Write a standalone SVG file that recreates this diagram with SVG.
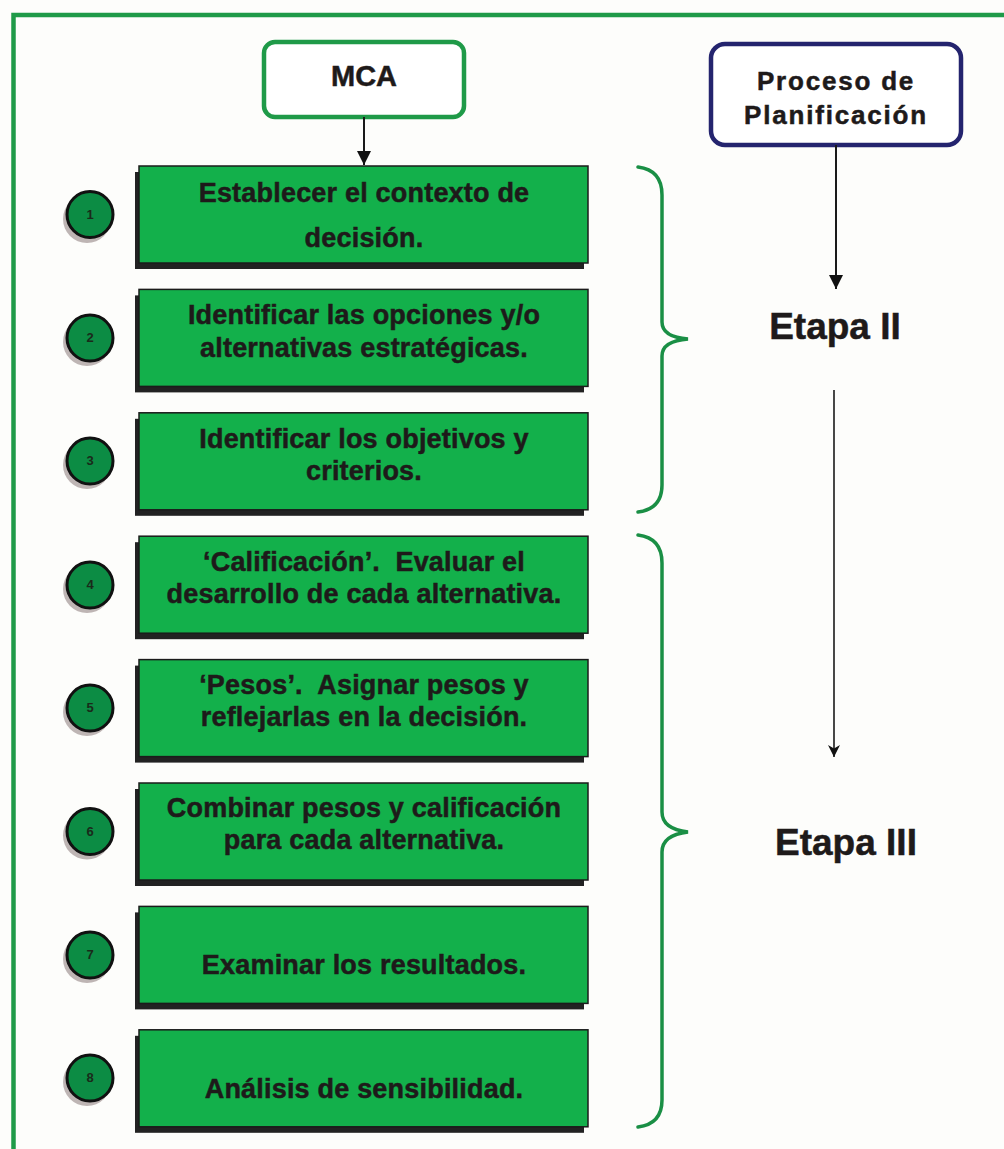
<svg xmlns="http://www.w3.org/2000/svg" width="1004" height="1149" viewBox="0 0 1004 1149">
<defs>
<style>
.t{font-family:"Liberation Sans",Arial,sans-serif;font-weight:bold;fill:#1e1a1a;text-anchor:middle;stroke:#1e1a1a;stroke-width:0.5}
.bx{font-size:27px;letter-spacing:0.2px}
.box{fill:#13b04b;stroke:#1b1b1b;stroke-width:1.5}
.sh{fill:#222}
.cs{fill:#8a7a7a;opacity:.55}
.c{fill:#0c8c44;stroke:#111;stroke-width:3}
.n{font-family:"Liberation Sans",Arial,sans-serif;font-weight:bold;font-size:13px;fill:#1a2a1a;text-anchor:middle}
.br{fill:none;stroke:#1a8f45;stroke-width:3.5;stroke-linecap:round}
.ln{fill:none;stroke:#1a1a1a}
</style>
<marker id="ah" viewBox="0 0 10 10" refX="10" refY="5" markerWidth="14" markerHeight="14" markerUnits="userSpaceOnUse" orient="auto">
<path d="M0,0 L10,5 L0,10 z" fill="#111"/>
</marker>
<marker id="ahs" viewBox="0 0 10 10" refX="10" refY="5" markerWidth="14" markerHeight="12" markerUnits="userSpaceOnUse" orient="auto">
<path d="M0,0 L10,5 L0,10 L3,5 z" fill="#111"/>
</marker>
</defs>
<rect width="1004" height="1149" fill="#fdfdfb"/>
<path d="M13.5,1149 V15 H1004" fill="none" stroke="#1f9a48" stroke-width="4.5"/>

<g id="mca">
<rect x="264" y="42" width="200" height="75" rx="11" fill="#ffffff" stroke="#1f9a48" stroke-width="4.5"/>
<text class="t" x="364" y="86" font-size="29">MCA</text>
</g>

<g id="proceso">
<rect x="711" y="44" width="250" height="101" rx="14" fill="#ffffff" stroke="#24246e" stroke-width="4.5"/>
<text class="t" x="836" y="90" font-size="26" letter-spacing="1.8">Proceso de</text>
<text class="t" x="836" y="124" font-size="26" letter-spacing="1.8">Planificación</text>
</g>

<g id="connectors">
<line class="ln" x1="364" y1="117" x2="364" y2="165" stroke-width="2" marker-end="url(#ah)"/>
<line class="ln" x1="836" y1="145" x2="836" y2="289" stroke-width="2" marker-end="url(#ah)"/>
<line class="ln" x1="834" y1="390" x2="834" y2="757" stroke-width="1.6" marker-end="url(#ahs)"/>
</g>

<g id="brace1"><path class="br" d="M638,167 Q662,170 662,195 V322 Q662,337 688,339 Q662,341 662,356 V485 Q662,509 638,512"/></g>
<g id="brace2"><path class="br" d="M638,535 Q662,538 662,563 V812 Q662,829 688,832 Q662,835 662,852 V1100 Q662,1124 638,1127"/></g>

<g id="etapa2"><text class="t" x="835" y="339" font-size="37">Etapa II</text></g>
<g id="etapa3"><text class="t" x="846" y="855" font-size="37">Etapa III</text></g>

<g id="step1">
<rect class="sh" x="135" y="172" width="449" height="97"/>
<rect class="box" x="139" y="166" width="449" height="97"/>
<circle class="cs" cx="87" cy="219" r="24"/>
<circle class="c" cx="90" cy="214.5" r="23"/>
<text class="n" x="90" y="219">1</text>
<text class="t bx" x="364" y="202">Establecer el contexto de</text>
<text class="t bx" x="364" y="247">decisión.</text>
</g>

<g id="step2">
<rect class="sh" x="135" y="295.4" width="449" height="97"/>
<rect class="box" x="139" y="289.4" width="449" height="97"/>
<circle class="cs" cx="87" cy="342" r="24"/>
<circle class="c" cx="90" cy="338" r="23"/>
<text class="n" x="90" y="342">2</text>
<text class="t bx" x="364" y="324">Identificar las opciones y/o</text>
<text class="t bx" x="364" y="357">alternativas estratégicas.</text>
</g>

<g id="step3">
<rect class="sh" x="135" y="418.8" width="449" height="97"/>
<rect class="box" x="139" y="412.8" width="449" height="97"/>
<circle class="cs" cx="87" cy="465" r="24"/>
<circle class="c" cx="90" cy="461" r="23"/>
<text class="n" x="90" y="465">3</text>
<text class="t bx" x="364" y="448">Identificar los objetivos y</text>
<text class="t bx" x="364" y="480">criterios.</text>
</g>

<g id="step4">
<rect class="sh" x="135" y="542.2" width="449" height="97"/>
<rect class="box" x="139" y="536.2" width="449" height="97"/>
<circle class="cs" cx="87" cy="589" r="24"/>
<circle class="c" cx="90" cy="585" r="23"/>
<text class="n" x="90" y="589">4</text>
<text class="t bx" x="364" y="571" xml:space="preserve">‘Calificación’.  Evaluar el</text>
<text class="t bx" x="364" y="603">desarrollo de cada alternativa.</text>
</g>

<g id="step5">
<rect class="sh" x="135" y="665.6" width="449" height="97"/>
<rect class="box" x="139" y="659.6" width="449" height="97"/>
<circle class="cs" cx="87" cy="712" r="24"/>
<circle class="c" cx="90" cy="708" r="23"/>
<text class="n" x="90" y="712">5</text>
<text class="t bx" x="364" y="694" xml:space="preserve">‘Pesos’.  Asignar pesos y</text>
<text class="t bx" x="364" y="726">reflejarlas en la decisión.</text>
</g>

<g id="step6">
<rect class="sh" x="135" y="789" width="449" height="97"/>
<rect class="box" x="139" y="783" width="449" height="97"/>
<circle class="cs" cx="87" cy="835.5" r="24"/>
<circle class="c" cx="90" cy="831.5" r="23"/>
<text class="n" x="90" y="835.5">6</text>
<text class="t bx" x="364" y="817">Combinar pesos y calificación</text>
<text class="t bx" x="364" y="849">para cada alternativa.</text>
</g>

<g id="step7">
<rect class="sh" x="135" y="912.4" width="449" height="97"/>
<rect class="box" x="139" y="906.4" width="449" height="97"/>
<circle class="cs" cx="87" cy="959" r="24"/>
<circle class="c" cx="90" cy="955" r="23"/>
<text class="n" x="90" y="959">7</text>
<text class="t bx" x="364" y="974">Examinar los resultados.</text>
</g>

<g id="step8">
<rect class="sh" x="135" y="1035.8" width="449" height="97"/>
<rect class="box" x="139" y="1029.8" width="449" height="97"/>
<circle class="cs" cx="87" cy="1082" r="24"/>
<circle class="c" cx="90" cy="1078" r="23"/>
<text class="n" x="90" y="1082">8</text>
<text class="t bx" x="364" y="1098">Análisis de sensibilidad.</text>
</g>
</svg>
